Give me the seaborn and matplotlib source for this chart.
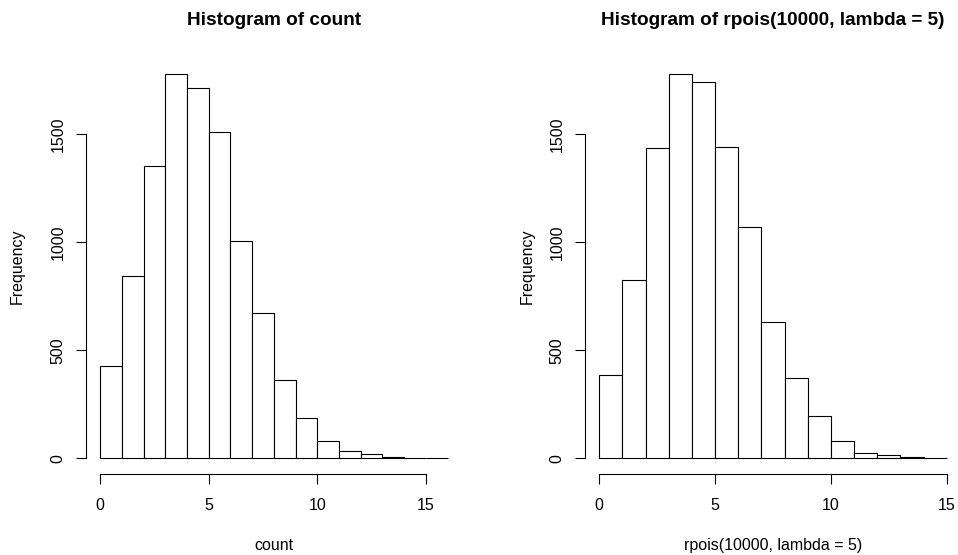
import numpy as np
import pandas as pd
import matplotlib
matplotlib.use("Agg")
import matplotlib.pyplot as plt
import seaborn as sns

# ---- data ----
left_edges = list(range(0, 17))
left_counts = [427, 846, 1353, 1779, 1713, 1509, 1005, 671, 364, 187, 80, 34, 18, 5, 0, 2]
right_edges = list(range(0, 16))
right_counts = [386, 826, 1437, 1779, 1741, 1443, 1069, 630, 370, 194, 79, 26, 14, 4, 2]
x_ticks = [0, 5, 10, 15]
y_ticks = [0, 500, 1000, 1500]
titles = ["Histogram of count", "Histogram of rpois(10000, lambda = 5)"]
xlabels = ["count", "rpois(10000, lambda = 5)"]
ylabel = "Frequency"

sns.set_style("white")
plt.rcParams['font.family'] = ['Liberation Sans', 'DejaVu Sans']

W, H = 958, 555
fig = plt.figure(figsize=(W / 100, H / 100), dpi=100)

def px(x0, y0, w, h):
    return [x0 / W, 1 - (y0 + h) / H, w / W, h / H]

panels = [
    dict(edges=left_edges, counts=left_counts, rect=px(86.4, 58.7, 375.0, 415.0),
         title_x=274, ylab_x=17, xlab_x=274, title=titles[0], xlabel=xlabels[0]),
    dict(edges=right_edges, counts=right_counts, rect=px(585.4, 58.7, 375.2, 415.0),
         title_x=773, ylab_x=527, xlab_x=773, title=titles[1], xlabel=xlabels[1]),
]

for p in panels:
    ax = fig.add_axes(p["rect"])
    edges = [float(e) for e in p["edges"]]
    centers = [(a + b) / 2 for a, b in zip(edges[:-1], edges[1:])]
    df = pd.DataFrame({"value": centers, "count": [float(c) for c in p["counts"]]})
    sns.histplot(data=df, x="value", weights="count", bins=edges, ax=ax,
                 color="white", edgecolor="black", linewidth=0.8, alpha=1.0)
    xr = edges[-1] - edges[0]
    ymax = max(p["counts"])
    ax.set_xlim(edges[0] - 0.04 * xr, edges[-1] + 0.04 * xr)
    ax.set_ylim(-0.04 * ymax, 1.04 * ymax)
    ax.set_xlabel("")
    ax.set_ylabel("")
    for s in ["top", "right"]:
        ax.spines[s].set_visible(False)
    ax.spines["left"].set_bounds(y_ticks[0], y_ticks[-1])
    ax.spines["bottom"].set_bounds(x_ticks[0], x_ticks[-1])
    for s in ["left", "bottom"]:
        ax.spines[s].set_color("black")
        ax.spines[s].set_linewidth(0.8)
    ax.set_xticks(x_ticks)
    ax.set_yticks(y_ticks)
    ax.set_xticklabels([str(t) for t in x_ticks])
    ax.set_yticklabels([str(t) for t in y_ticks], rotation=90, va="center")
    ax.tick_params(axis="both", which="major", direction="out", length=7.2, width=0.8,
                   color="black", labelsize=11.5, labelcolor="black",
                   bottom=True, left=True, top=False, right=False)
    ax.tick_params(axis="x", pad=10)
    ax.tick_params(axis="y", pad=8)
    ax.set_facecolor("white")

    fig.text(p["title_x"] / W, 1 - 25 / H, p["title"], ha="center", va="baseline",
             fontsize=13.7, fontweight="bold", color="black")
    fig.text(p["xlab_x"] / W, 1 - 550 / H, p["xlabel"], ha="center", va="baseline",
             fontsize=11.5, color="black")
    fig.text(p["ylab_x"] / W, 1 - 266 / H, ylabel, ha="center", va="center",
             rotation=90, fontsize=11.5, color="black")

fig.savefig("out.png", dpi=100, facecolor="white")
